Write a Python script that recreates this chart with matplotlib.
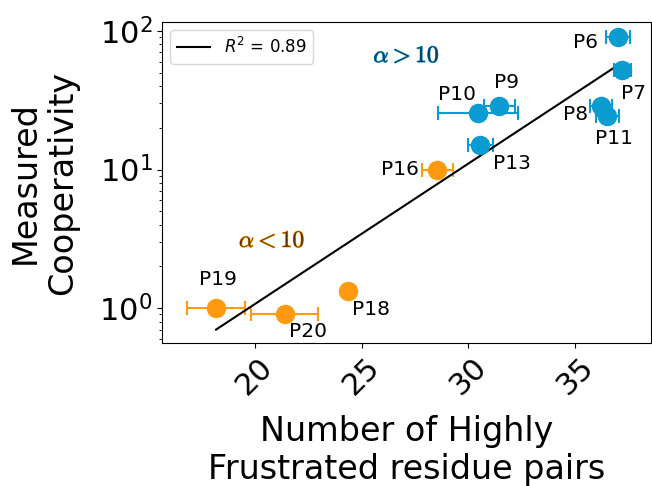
import numpy as np
import matplotlib
matplotlib.use("Agg")
from matplotlib import pyplot as plt
import matplotlib.patheffects as pe

# data
names = ['P6', 'P7', 'P8', 'P9', 'P10', 'P11', 'P13', 'P16', 'P18', 'P19', 'P20']
frustrated = [37.0, 37.2, 36.2, 31.45, 30.43, 36.5, 30.56, 28.55, 24.38, 18.18, 21.39]
frustrated_err = [0.56, 0.4, 0.5, 0.72, 1.87, 0.53, 0.58, 0.72, 0.0, 1.35, 1.55]
cooperativity = [90.6, 52.0, 28.7, 28.7, 25.5, 24.3, 15.0, 10.0, 1.33, 1.01, 0.905]
high_alpha = [True, True, True, True, True, True, True, False, False, False, False]

# regression line ends (log-linear fit), R^2 from the legend
fit_x = [18.18, 36.78]
fit_y = [0.70, 53.8]
r2 = 0.89

# label offsets in pixels (dx, dy down)
label_offsets = [(-32, 6), (11, 23), (-25, 8), (7, -24), (-21, -19), (7, 22),
                 (32, 18), (-38, 0), (23, 19), (2, -28), (23, 17)]

blue = '#0a9bd0'
orange = '#ff9a0e'

fig = plt.figure(figsize=(6.52, 4.86), dpi=100)
ax = fig.add_axes([0.2485, 0.2942, 0.750, 0.6605])

for x, xe, y, hi in zip(frustrated, frustrated_err, cooperativity, high_alpha):
    c = blue if hi else orange
    ax.errorbar(x, y, xerr=xe, fmt='o', color=c, ms=13, capsize=5,
                elinewidth=1.5, capthick=1.5)

ax.plot(fit_x, fit_y, color='black', lw=1.5, label='$R^2$ = %.2f' % r2)

for name, x, y, (dx, dy) in zip(names, frustrated, cooperativity, label_offsets):
    ax.annotate(name, (x, y), xytext=(dx * 0.72, -dy * 0.72),
                textcoords='offset points', ha='center', va='center', fontsize=14.5)

ax.set_yscale('log')
ax.set_xlim(15.65, 38.55)
ax.set_ylim(0.56, 116)
ax.set_xticks([20, 25, 30, 35])

ax.text(0.50, 0.897, r'$\alpha > 10$', transform=ax.transAxes, fontsize=17,
        math_fontfamily='cm', color='#14394f', ha='center', va='center',
        path_effects=[pe.withStroke(linewidth=0.8, foreground=blue)])
ax.text(0.225, 0.321, r'$\alpha < 10$', transform=ax.transAxes, fontsize=17,
        math_fontfamily='cm', color='#5a3300', ha='center', va='center',
        path_effects=[pe.withStroke(linewidth=0.8, foreground=orange)])

ax.legend(loc='upper left', fontsize=12)
ax.tick_params(axis='both', which='major', labelsize=22)
ax.tick_params(axis='x', labelrotation=45)
ax.set_xlabel('Number of Highly\nFrustrated residue pairs', fontsize=24, labelpad=10)
ax.set_ylabel('Measured\nCooperativity', fontsize=24, labelpad=14)

plt.savefig('out.png', dpi=100)
